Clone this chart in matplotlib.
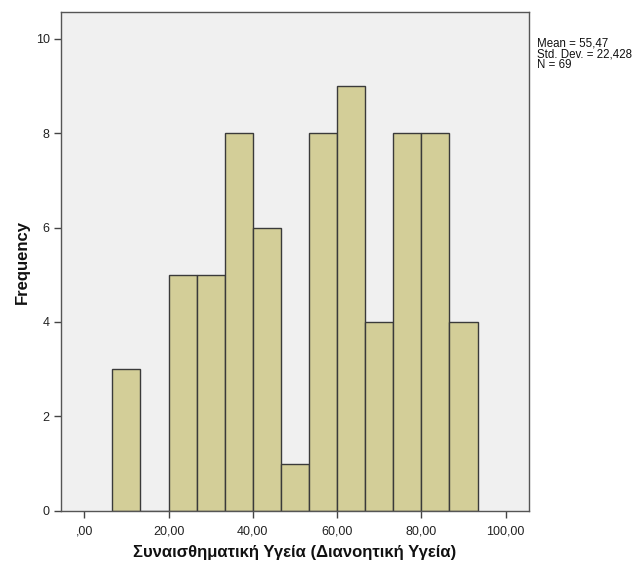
import matplotlib
matplotlib.use("Agg")
import matplotlib.pyplot as plt
import numpy as np

plt.rcParams['font.family'] = ['Liberation Sans', 'DejaVu Sans']

# Histogram bins (width 20/3) and counts
bin_edges = [20 / 3 * k for k in range(1, 15)]
counts = [3, 0, 5, 5, 8, 6, 1, 8, 9, 4, 8, 8, 4]
x_ticks = [0, 20, 40, 60, 80, 100]
x_tick_labels = [",00", "20,00", "40,00", "60,00", "80,00", "100,00"]
y_ticks = [0, 2, 4, 6, 8, 10]
stats_lines = ["Mean = 55,47", "Std. Dev. = 22,428", "N = 69"]

fig = plt.figure(figsize=(6.41, 5.63), dpi=100)
ax = fig.add_axes([0.0947, 0.0929, 0.731, 0.885])
ax.set_facecolor("#F0F0F0")

lefts = np.array(bin_edges[:-1])
widths = np.diff(bin_edges)
ax.bar(lefts, counts, width=widths, align="edge", color="#D3CE98",
       edgecolor="#3a3a3a", linewidth=1.0)

ax.set_xlim(-5.6, 105.6)
ax.set_ylim(0, 10.56)
ax.set_xticks(x_ticks)
ax.set_xticklabels(x_tick_labels)
ax.set_yticks(y_ticks)
ax.tick_params(axis="both", direction="out", length=5, width=1,
               color="#444444", labelsize=9, labelcolor="#222222", pad=3)
ax.tick_params(axis="x", pad=6)
for s in ax.spines.values():
    s.set_color("#555555")
    s.set_linewidth(1.0)

ax.set_xlabel("Συναισθηματική Υγεία (Διανοητική Υγεία)", fontsize=12,
              fontweight="bold", labelpad=5, color="#111111")
ax.set_ylabel("Frequency", fontsize=12, fontweight="bold", labelpad=4,
              color="#111111")

# Summary statistics, one baseline per line
for i, line in enumerate(stats_lines):
    fig.text(537 / 641, 1 - (46.5 + 10.6 * i) / 563, line, fontsize=8.3,
             va="baseline", ha="left", color="#111111")

fig.savefig("out.png", dpi=100, facecolor="white")
